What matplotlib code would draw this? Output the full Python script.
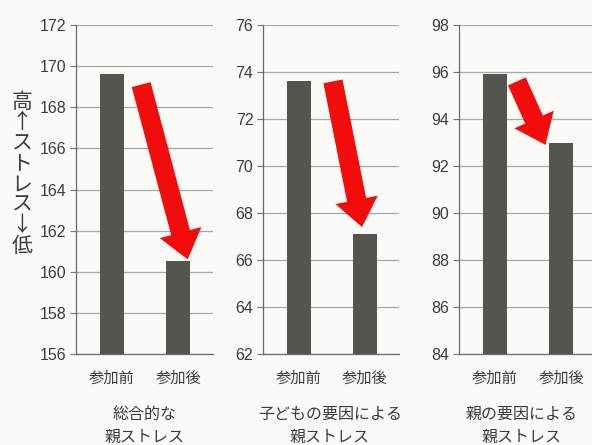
import matplotlib
matplotlib.use("Agg")
import matplotlib.pyplot as plt
from matplotlib.patches import FancyArrowPatch, ArrowStyle

plt.rcParams['font.family'] = ['Noto Sans CJK JP', 'DejaVu Sans']

categories = ["参加前", "参加後"]
titles = ["総合的な\n親ストレス", "子どもの要因による\n親ストレス", "親の要因による\n親ストレス"]
values = [[169.6, 160.5], [73.6, 67.1], [95.9, 93.0]]
y_ranges = [(156, 172), (62, 76), (84, 98)]
ylabel = "高↑ストレス↓低"

# arrow tail/tip in data coords per panel
arrows = [((0.44, 169.1), (1.14, 160.6)),
          ((0.52, 73.6), (0.96, 67.4)),
          ((0.33, 95.6), (0.76, 92.9))]

BG = "#fafaf6"
BAR = "#55554f"
GRID = "#a8a8a4"
TXT = "#3c3c3a"

fig = plt.figure(figsize=(5.92, 4.45), dpi=100, facecolor=BG)

boxes = [[76 / 592, 91 / 445, 137 / 592, 329 / 445],
         [263 / 592, 91 / 445, 136 / 592, 329 / 445],
         [459 / 592, 91 / 445, 137 / 592, 329 / 445]]
title_x = [145 / 592, 330 / 592, 522 / 592]

for i, box in enumerate(boxes):
    ax = fig.add_axes(box)
    ax.set_facecolor(BG)
    lo, hi = y_ranges[i]
    ax.bar(range(len(categories)), values[i], width=0.36, color=BAR, zorder=3)
    ax.set_ylim(lo, hi)
    ax.set_xlim(-0.54, 1.52)
    ax.set_yticks(range(lo, hi + 1, 2))
    ax.set_xticks(range(len(categories)))
    ax.set_xticklabels(categories, fontsize=11, color=TXT)
    ax.tick_params(axis="x", length=0, pad=11)
    ax.tick_params(axis="y", length=4, width=0.8, color="#777", pad=3,
                   labelcolor=TXT)
    for lab in ax.get_yticklabels():
        lab.set_family(['Liberation Sans', 'DejaVu Sans'])
        lab.set_fontsize(11.5)
    ax.grid(axis="y", color=GRID, linewidth=0.9, zorder=0)
    ax.set_axisbelow(True)
    for s in ("top", "right"):
        ax.spines[s].set_visible(False)
    for s in ("left", "bottom"):
        ax.spines[s].set_color("#6a6a68")
        ax.spines[s].set_linewidth(0.9)
    fig.text(title_x[i], 1 - 406 / 445, titles[i], ha="center",
             va="top", fontsize=11.5, color=TXT, linespacing=1.45)

    (x0, y0), (x1, y1) = arrows[i]
    arr = FancyArrowPatch((x0, y0), (x1, y1),
                          arrowstyle=ArrowStyle.Simple(head_length=20, head_width=31,
                                                       tail_width=14),
                          mutation_scale=1, shrinkA=0, shrinkB=0,
                          color="#f20c0c", lw=0, zorder=5, clip_on=False)
    ax.add_patch(arr)

fig.text(22 / 592, 1 - 174 / 445, "\n".join(ylabel), ha="center", va="center",
         fontsize=15, color=TXT, linespacing=0.92)

fig.savefig("out.png", dpi=100, facecolor=BG)
